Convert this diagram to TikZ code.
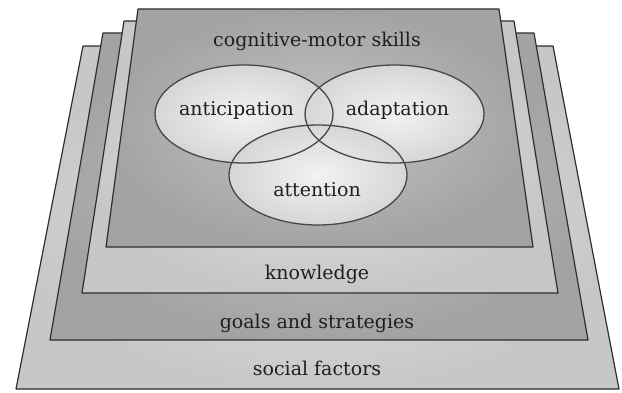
\documentclass[tikz,border=0pt]{standalone}
\usepackage{fontspec}
\newfontfamily\dvs{DejaVu Serif}
\begin{document}
\begin{tikzpicture}[x=1pt,y=-1pt,
  edge/.style={draw=black!82, line width=1.2pt, line join=round},
  light/.style={edge, inner color=black!10, outer color=black!22},
  dark/.style={edge, inner color=black!23, outer color=black!36},
  vennfill/.style={inner color=black!5, outer color=black!16},
  vennline/.style={draw=black!72, line width=1.3pt},
  lbl/.style={anchor=base, text=black!88, font=\dvs\fontsize{19}{23}\selectfont, inner sep=0pt}]
\useasboundingbox (0,0) rectangle (622,392);
% layers, back to front
\shadedraw[light] (83,46) -- (553,46) -- (619,389) -- (16,389) -- cycle;
\shadedraw[dark]  (103,33) -- (534,33) -- (588,340) -- (50,340) -- cycle;
\shadedraw[light] (124,21) -- (514,21) -- (558,293) -- (82,293) -- cycle;
\shadedraw[dark]  (138,9) -- (499,9) -- (533,247) -- (106,247) -- cycle;
% venn ellipses
\shade[vennfill] (244,114) ellipse [x radius=89, y radius=49];
\shade[vennfill] (394.5,114) ellipse [x radius=89.5, y radius=49];
\shade[vennfill] (318,175) ellipse [x radius=89, y radius=50];
\draw[vennline] (244,114) ellipse [x radius=89, y radius=49];
\draw[vennline] (394.5,114) ellipse [x radius=89.5, y radius=49];
\draw[vennline] (318,175) ellipse [x radius=89, y radius=50];
% labels
\node[lbl] (cms) at (317,46) {cognitive-motor skills};
\node[lbl] (ant) at (236.5,115) {anticipation};
\node[lbl] (ada) at (397.5,115) {adaptation};
\node[lbl] (att) at (317,196) {attention};
\node[lbl] (kno) at (317,279) {knowledge};
\node[lbl] (gs) at (317,328) {goals and strategies};
\node[lbl] (soc) at (317,375) {social factors};
\end{tikzpicture}
\end{document}
